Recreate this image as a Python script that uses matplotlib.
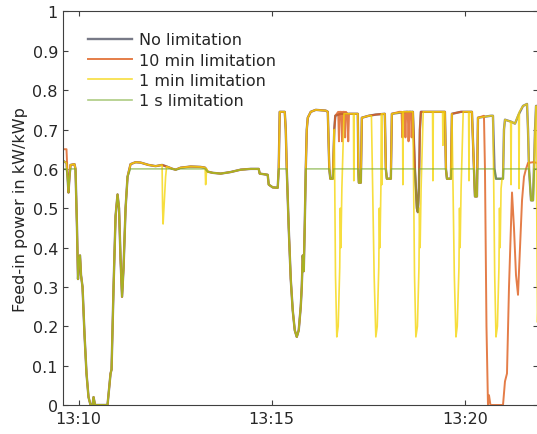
import numpy as np
import matplotlib
matplotlib.use("Agg")
import matplotlib.pyplot as plt

# ---------------- data (time in minutes after 13:00, power in kW/kWp) -------------
no_lim_t = [9.611, 9.689, 9.715, 9.741, 9.767, 9.793, 9.896, 9.922, 9.961, 9.987,
            10.013, 10.039, 10.065, 10.104, 10.155, 10.207, 10.259, 10.311, 10.363, 10.389,
            10.427, 10.751, 10.790, 10.829, 10.855, 10.907, 10.959, 11.010, 11.049, 11.088,
            11.127, 11.166, 11.218, 11.269, 11.347, 11.477, 11.606, 11.813, 11.995, 12.163,
            12.280, 12.435, 12.513, 12.642, 12.902, 13.161, 13.277, 13.342, 13.472, 13.679,
            13.938, 14.197, 14.456, 14.663, 14.689, 14.896, 14.922, 15.026, 15.155,
            15.181, 15.207, 15.337, 15.363, 15.389, 15.440, 15.492, 15.544, 15.596, 15.648,
            15.699, 15.751, 15.777, 15.803, 15.829, 15.855, 15.881, 15.907, 15.933, 16.010,
            16.140, 16.399, 16.451, 16.490, 16.516, 16.580, 16.619, 16.645, 16.788, 17.228,
            17.241, 17.254, 17.306, 17.332, 17.513, 17.694, 17.927, 17.953, 17.979, 18.083,
            18.109, 18.472, 18.653, 18.705, 18.756, 18.782, 18.808, 18.834, 18.860, 19.378,
            19.482, 19.508, 19.534, 19.637, 19.663, 19.896, 20.181, 20.233, 20.259, 20.311,
            20.337, 20.674, 20.725, 20.764, 20.803, 20.985, 21.010, 21.036, 21.192, 21.295,
            21.399, 21.503, 21.606, 21.632, 21.658, 21.710, 21.762, 21.814, 21.840, 21.891]
no_lim_v = [0.620, 0.615, 0.580, 0.540, 0.580, 0.610, 0.612, 0.600, 0.450, 0.320,
            0.370, 0.380, 0.330, 0.300, 0.180, 0.080, 0.020, 0.000, 0.000, 0.020,
            0.000, 0.000, 0.040, 0.080, 0.090, 0.300, 0.480, 0.535, 0.500, 0.370,
            0.275, 0.350, 0.500, 0.580, 0.612, 0.617, 0.616, 0.610, 0.607, 0.610,
            0.606, 0.600, 0.598, 0.603, 0.606, 0.605, 0.603, 0.593, 0.590, 0.588,
            0.592, 0.598, 0.600, 0.600, 0.588, 0.585, 0.560, 0.553, 0.552,
            0.600, 0.745, 0.745, 0.700, 0.600, 0.450, 0.320, 0.240, 0.190, 0.173,
            0.190, 0.250, 0.300, 0.380, 0.340, 0.460, 0.600, 0.700, 0.730, 0.745,
            0.750, 0.748, 0.745, 0.600, 0.575, 0.575, 0.700, 0.735, 0.740, 0.740,
            0.600, 0.565, 0.565, 0.730, 0.735, 0.738, 0.740, 0.600, 0.575, 0.575,
            0.740, 0.745, 0.745, 0.600, 0.500, 0.490, 0.550, 0.700, 0.745, 0.745,
            0.745, 0.600, 0.575, 0.575, 0.740, 0.745, 0.745, 0.600, 0.530, 0.530,
            0.730, 0.735, 0.735, 0.600, 0.575, 0.575, 0.700, 0.725, 0.720, 0.715,
            0.740, 0.760, 0.765, 0.700, 0.600, 0.520, 0.520, 0.700, 0.760, 0.760]

# 10 min limitation: where it departs from the unlimited curve
lim10_start_t = [9.611, 9.689, 9.715]
lim10_start_v = [0.650, 0.650, 0.590]
lim10_jag1_t = [16.645, 16.72, 16.74, 16.76, 16.80, 16.82, 16.84, 16.88, 16.90, 16.92, 16.96, 16.98, 17.00, 17.08]
lim10_jag1_v = [0.735, 0.745, 0.670, 0.745, 0.745, 0.670, 0.745, 0.745, 0.680, 0.745, 0.740, 0.670, 0.740, 0.740]
lim10_jag2_t = [18.30, 18.36, 18.38, 18.40, 18.44, 18.46, 18.48, 18.52, 18.54, 18.56, 18.60, 18.62, 18.64]
lim10_jag2_v = [0.745, 0.745, 0.680, 0.745, 0.745, 0.680, 0.745, 0.745, 0.670, 0.745, 0.745, 0.680, 0.745]
lim10_end_t = [20.492, 20.518, 20.557, 20.596, 20.622, 20.660, 20.985, 21.036, 21.088, 21.140,
               21.218, 21.269, 21.321, 21.373, 21.425, 21.477, 21.528, 21.580, 21.632, 21.762, 21.891]
lim10_end_v = [0.735, 0.600, 0.200, 0.000, 0.025, 0.000, 0.000, 0.060, 0.080, 0.300,
               0.540, 0.450, 0.330, 0.280, 0.400, 0.520, 0.580, 0.600, 0.615, 0.617, 0.615]

# 1 min limitation: where it departs from the unlimited curve
lim1_d1_t = [12.163, 12.176, 12.189, 12.254, 12.280]
lim1_d1_v = [0.610, 0.500, 0.460, 0.580, 0.606]
lim1_d2_t = [13.277, 13.290, 13.316]
lim1_d2_v = [0.603, 0.560, 0.600]
lim1_d3_t = [16.620, 16.650, 16.684, 16.720, 16.760, 16.775, 16.790, 16.815, 16.870]
lim1_d3_v = [0.690, 0.330, 0.173, 0.200, 0.350, 0.500, 0.400, 0.550, 0.740]
lim1_s1_t = [17.115, 17.124, 17.134]
lim1_s1_v = [0.740, 0.570, 0.740]
lim1_d4_t = [17.580, 17.650, 17.694, 17.730, 17.770, 17.785, 17.800, 17.825, 17.880]
lim1_d4_v = [0.735, 0.330, 0.173, 0.200, 0.350, 0.500, 0.400, 0.550, 0.740]
lim1_s2_t = [17.842, 17.850, 17.860]
lim1_s2_v = [0.740, 0.560, 0.740]
lim1_s3_t = [18.385, 18.394, 18.404]
lim1_s3_v = [0.745, 0.560, 0.745]
lim1_d5_t = [18.653, 18.695, 18.730, 18.770, 18.810, 18.825, 18.840, 18.865, 18.920]
lim1_d5_v = [0.745, 0.330, 0.173, 0.200, 0.350, 0.500, 0.400, 0.550, 0.745]
lim1_s4_t = [19.162, 19.171, 19.181]
lim1_s4_v = [0.745, 0.570, 0.745]
lim1_s5_t = [19.421, 19.430, 19.440]
lim1_s5_v = [0.745, 0.660, 0.745]
lim1_d6_t = [19.663, 19.725, 19.767, 19.800, 19.845, 19.860, 19.875, 19.900, 19.955]
lim1_d6_v = [0.740, 0.330, 0.173, 0.200, 0.350, 0.500, 0.400, 0.550, 0.745]
lim1_s6_t = [20.095, 20.104, 20.114]
lim1_s6_v = [0.745, 0.570, 0.745]
lim1_d7_t = [20.725, 20.770, 20.803, 20.840, 20.880, 20.895, 20.910, 20.935, 20.960]
lim1_d7_v = [0.735, 0.330, 0.173, 0.200, 0.350, 0.500, 0.400, 0.550, 0.575]
lim1_s7_t = [21.183, 21.192, 21.202]
lim1_s7_v = [0.720, 0.560, 0.720]
lim1_s8_t = [21.390, 21.399, 21.409]
lim1_s8_v = [0.740, 0.550, 0.745]
lim1_d8_t = [21.840, 21.878, 21.891]
lim1_d8_v = [0.760, 0.210, 0.250]

# 1 s limitation
lim1s_t = [9.611, 9.689, 9.715, 9.741, 9.767, 9.793, 9.922, 9.961, 9.987, 10.013,
           10.039, 10.065, 10.104, 10.155, 10.207, 10.259, 10.311, 10.363, 10.389, 10.427,
           10.751, 10.790, 10.829, 10.855, 10.907, 10.959, 11.010, 11.049, 11.088, 11.127,
           11.166, 11.218, 11.269, 11.347, 12.435, 12.513, 12.642, 13.277, 13.342, 13.472,
           13.679, 13.938, 14.197, 14.456, 14.663, 14.689, 14.896, 14.922, 15.026, 15.155,
           15.181, 15.389, 15.440, 15.492, 15.544, 15.596, 15.648, 15.699, 15.751, 15.777,
           15.803, 15.829, 15.855, 15.881, 16.490, 16.516, 16.580, 16.605, 17.241, 17.254,
           17.306, 17.315, 17.953, 17.979, 18.083, 18.090, 18.705, 18.756, 18.782, 18.808,
           18.820, 19.508, 19.534, 19.637, 19.645, 20.233, 20.259, 20.311, 20.320, 20.764,
           20.803, 20.985, 21.000, 21.658, 21.710, 21.762, 21.790, 21.891]
lim1s_v = [0.600, 0.600, 0.580, 0.540, 0.580, 0.600, 0.600, 0.450, 0.320, 0.370,
           0.380, 0.330, 0.300, 0.180, 0.080, 0.020, 0.000, 0.000, 0.020, 0.000,
           0.000, 0.040, 0.080, 0.090, 0.300, 0.480, 0.535, 0.500, 0.370, 0.275,
           0.350, 0.500, 0.580, 0.600, 0.600, 0.598, 0.600, 0.600, 0.593, 0.590,
           0.588, 0.592, 0.598, 0.600, 0.600, 0.588, 0.585, 0.560, 0.553, 0.552,
           0.600, 0.600, 0.450, 0.320, 0.240, 0.190, 0.173, 0.190, 0.250, 0.300,
           0.380, 0.340, 0.460, 0.600, 0.600, 0.575, 0.575, 0.600, 0.600, 0.565,
           0.565, 0.600, 0.600, 0.575, 0.575, 0.600, 0.600, 0.500, 0.490, 0.550,
           0.600, 0.600, 0.575, 0.575, 0.600, 0.600, 0.530, 0.530, 0.600, 0.600,
           0.575, 0.575, 0.600, 0.600, 0.520, 0.520, 0.600, 0.600]

labels = ["No limitation", "10 min limitation", "1 min limitation", "1 s limitation"]
tick_pos = [10, 15, 20]
tick_lab = ["13:10", "13:15", "13:20"]
y_ticks = [0, 0.1, 0.2, 0.3, 0.4, 0.5, 0.6, 0.7, 0.8, 0.9, 1]
y_lab = ["0", "0.1", "0.2", "0.3", "0.4", "0.5", "0.6", "0.7", "0.8", "0.9", "1"]


def splice(base_t, base_v, segments):
    """Replace the base curve inside each segment's time window by the segment."""
    t = np.asarray(base_t, float)
    v = np.asarray(base_v, float)
    for st, sv in segments:
        keep = (t < st[0]) | (t > st[-1])
        t = np.concatenate([t[keep], st])
        v = np.concatenate([v[keep], sv])
        o = np.argsort(t, kind="stable")
        t, v = t[o], v[o]
    return t, v


lim10 = splice(no_lim_t, no_lim_v, [(lim10_start_t, lim10_start_v), (lim10_jag1_t, lim10_jag1_v),
                                    (lim10_jag2_t, lim10_jag2_v), (lim10_end_t, lim10_end_v)])
lim1 = splice(no_lim_t, no_lim_v, [(lim1_d1_t, lim1_d1_v), (lim1_d2_t, lim1_d2_v),
                                   (lim1_d3_t, lim1_d3_v), (lim1_s1_t, lim1_s1_v),
                                   (lim1_d4_t, lim1_d4_v), (lim1_s2_t, lim1_s2_v),
                                   (lim1_s3_t, lim1_s3_v), (lim1_d5_t, lim1_d5_v),
                                   (lim1_s4_t, lim1_s4_v), (lim1_s5_t, lim1_s5_v),
                                   (lim1_d6_t, lim1_d6_v), (lim1_s6_t, lim1_s6_v),
                                   (lim1_d7_t, lim1_d7_v), (lim1_s7_t, lim1_s7_v),
                                   (lim1_s8_t, lim1_s8_v), (lim1_d8_t, lim1_d8_v)])

# ---------------- figure ----------------
plt.rcParams["font.family"] = ["DejaVu Sans"]
fig = plt.figure(figsize=(5.37, 4.35), dpi=100)
ax = fig.add_axes([0.1182, 0.0667, 0.8837, 0.9046])

c_gray = (0.47, 0.48, 0.53)
c_orange = (0.87, 0.36, 0.10, 0.8)
c_yellow = (0.96, 0.84, 0.05, 0.8)
c_green = (0.47, 0.67, 0.19, 0.6)

ax.plot(no_lim_t, no_lim_v, color=c_gray, lw=1.7, label=labels[0], solid_joinstyle="round")
ax.plot(lim10[0], lim10[1], color=c_orange, lw=1.4, label=labels[1], solid_joinstyle="round")
ax.plot(lim1[0], lim1[1], color=c_yellow, lw=1.2, label=labels[2], solid_joinstyle="round")
ax.plot(lim1s_t, lim1s_v, color=c_green, lw=1.2, label=labels[3], solid_joinstyle="round")

ax.set_xlim(9.611, 21.891)
ax.set_ylim(0, 1)
ax.set_xticks(tick_pos)
ax.set_xticklabels(tick_lab)
ax.set_yticks(y_ticks)
ax.set_yticklabels(y_lab)

axc = "#404040"
for s in ax.spines.values():
    s.set_color(axc)
    s.set_linewidth(0.8)
ax.tick_params(direction="in", top=True, right=True, length=3.5, width=0.8,
               color=axc, labelcolor="#262626", labelsize=11.5, pad=4)
ax.set_ylabel("Feed-in power in kW/kWp", fontsize=11.5, color="#262626", labelpad=3.5)

leg = ax.legend(loc="upper left", bbox_to_anchor=(0.051, 0.947), frameon=False,
                fontsize=11.5, handlelength=2.8, handletextpad=0.4, labelspacing=0.33,
                borderaxespad=0, borderpad=0)
for t in leg.get_texts():
    t.set_color("#262626")

fig.savefig("out.png", dpi=100)
